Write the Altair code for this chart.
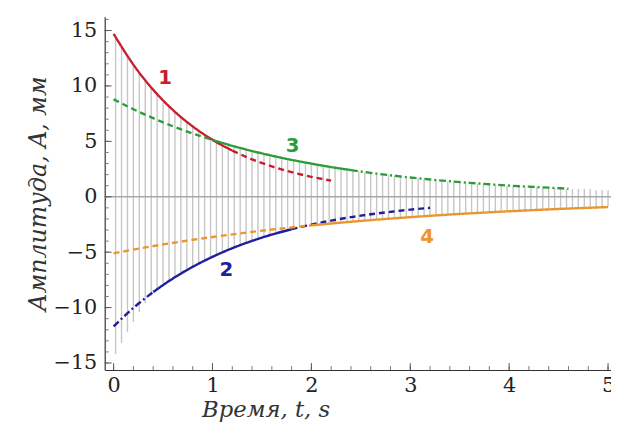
import altair as alt
import pandas as pd

# ---- gray oscillation strokes (sample times, upper and lower tips) ----
line_t = [0.02, 0.08, 0.14, 0.2, 0.26, 0.32, 0.38, 0.44, 0.5, 0.56, 0.62, 0.68, 0.74, 0.8, 0.86, 0.92, 0.98,
          1.04, 1.1, 1.16, 1.22, 1.28, 1.34, 1.4, 1.46, 1.52, 1.58, 1.64, 1.7, 1.76, 1.82, 1.88, 1.94, 2.0,
          2.06, 2.12, 2.18, 2.24, 2.3, 2.36, 2.42, 2.48, 2.54, 2.6, 2.66, 2.72, 2.78, 2.84, 2.9, 2.96,
          3.02, 3.08, 3.14, 3.2, 3.26, 3.32, 3.38, 3.44, 3.5, 3.56, 3.62, 3.68, 3.74, 3.8, 3.86, 3.92, 3.98,
          4.04, 4.1, 4.16, 4.22, 4.28, 4.34, 4.4, 4.46, 4.52, 4.58, 4.64, 4.7, 4.76, 4.82, 4.88, 4.94, 5.0]
line_top = [14.4, 13.5, 12.7, 11.9, 11.2, 10.5, 9.9, 9.3, 8.7, 8.2, 7.7, 7.2, 6.8, 6.3, 6.0, 5.6, 5.3,
            5.0, 4.9, 4.7, 4.6, 4.4, 4.3, 4.1, 4.0, 3.9, 3.7, 3.6, 3.5, 3.4, 3.3, 3.2, 3.1, 3.0,
            2.9, 2.8, 2.7, 2.6, 2.5, 2.5, 2.4, 2.3, 2.2, 2.2, 2.1, 2.0, 2.0, 1.9, 1.8, 1.8,
            1.7, 1.7, 1.6, 1.6, 1.5, 1.5, 1.4, 1.4, 1.3, 1.3, 1.2, 1.2, 1.2, 1.1, 1.1, 1.1, 1.0,
            1.0, 1.0, 0.9, 0.9, 0.9, 0.8, 0.8, 0.8, 0.8, 0.7, 0.7, 0.7, 0.7, 0.7, 0.6, 0.6, 0.6]
line_bottom = [-14.2, -13.2, -12.2, -11.3, -10.4, -9.6, -8.9, -8.3, -8.0, -7.6, -7.3, -6.9, -6.6, -6.3, -6.0, -5.8, -5.5,
               -5.3, -5.0, -4.8, -4.6, -4.4, -4.2, -4.0, -3.8, -3.6, -3.5, -3.3, -3.2, -3.0, -2.9, -2.8, -2.6, -2.6,
               -2.5, -2.5, -2.4, -2.4, -2.3, -2.3, -2.2, -2.2, -2.2, -2.1, -2.1, -2.0, -2.0, -1.9, -1.9, -1.9,
               -1.8, -1.8, -1.8, -1.7, -1.7, -1.6, -1.6, -1.6, -1.6, -1.5, -1.5, -1.5, -1.4, -1.4, -1.4, -1.3, -1.3,
               -1.3, -1.3, -1.2, -1.2, -1.2, -1.2, -1.1, -1.1, -1.1, -1.1, -1.1, -1.0, -1.0, -1.0, -1.0, -1.0, -0.9]

# ---- envelope curves ----
red_t = [0.0, 0.2, 0.4, 0.6, 0.8, 1.0, 1.2, 1.4, 1.6, 1.8, 2.0, 2.2]
red_v = [14.70, 11.92, 9.66, 7.83, 6.35, 5.14, 4.17, 3.38, 2.74, 2.22, 1.80, 1.46]
green_t = [0.0, 0.2, 0.4, 0.6, 0.8, 1.0, 1.2, 1.4, 1.6, 1.8, 2.0, 2.2, 2.4, 2.6, 2.8, 3.0, 3.2, 3.4, 3.6,
           3.8, 4.0, 4.2, 4.4, 4.6]
green_v = [8.80, 7.90, 7.09, 6.36, 5.71, 5.13, 4.60, 4.13, 3.71, 3.33, 2.99, 2.68, 2.41, 2.16, 1.94, 1.74,
           1.56, 1.40, 1.26, 1.13, 1.01, 0.91, 0.82, 0.73]
blue_t = [0.0, 0.2, 0.4, 0.6, 0.8, 1.0, 1.2, 1.4, 1.6, 1.8, 2.0, 2.2, 2.4, 2.6, 2.8, 3.0, 3.2]
blue_v = [-11.70, -10.03, -8.60, -7.37, -6.32, -5.42, -4.64, -3.98, -3.41, -2.93, -2.51, -2.15, -1.84,
          -1.58, -1.36, -1.16, -1.00]
orange_t = [0.0, 0.5, 1.0, 1.5, 2.0, 2.5, 3.0, 3.5, 4.0, 4.5, 5.0]
orange_v = [-5.10, -4.30, -3.63, -3.06, -2.58, -2.18, -1.84, -1.55, -1.31, -1.10, -0.93]

# segments: (curve, start, end, style)
segments = [
    ("1", 0.0, 1.2, "solid"), ("1", 1.2, 2.2, "dash"),
    ("3", 0.0, 1.0, "dash"), ("3", 1.0, 2.4, "solid"), ("3", 2.4, 4.6, "dashdot"),
    ("2", 0.0, 0.4, "dashdot"), ("2", 0.4, 1.8, "solid"), ("2", 1.8, 3.2, "dash"),
    ("4", 0.0, 2.0, "dash"), ("4", 2.0, 5.0, "solid"),
]

curve_ids = ["1", "2", "3", "4"]
curve_colors = ["#c81e2c", "#1f1f9e", "#2c9c38", "#eb962c"]

lab_t = [0.52, 1.14, 1.81, 3.17]
lab_v = [10.7, -6.6, 4.6, -3.6]
lab_text = ["1", "2", "3", "4"]

y_major = [-15, -10, -5, 0, 5, 10, 15]
y_minor = [-15, -14, -13, -12, -11, -10, -9, -8, -7, -6, -5, -4, -3, -2, -1, 0, 1, 2, 3, 4, 5, 6, 7, 8,
           9, 10, 11, 12, 13, 14, 15, 16]
x_major = [0, 1, 2, 3, 4, 5]
x_minor = [0.0, 0.2, 0.4, 0.6, 0.8, 1.0, 1.2, 1.4, 1.6, 1.8, 2.0, 2.2, 2.4, 2.6, 2.8, 3.0, 3.2, 3.4,
           3.6, 3.8, 4.0, 4.2, 4.4, 4.6, 4.8, 5.0]

W, H = 513, 358

curve_src = {"1": (red_t, red_v), "2": (blue_t, blue_v), "3": (green_t, green_v), "4": (orange_t, orange_v)}
rows = []
for k, (c, a, b, st) in enumerate(segments):
    ts, vs = curve_src[c]
    for t, v in zip(ts, vs):
        if a - 1e-9 <= t <= b + 1e-9:
            rows.append({"t": t, "v": v, "curve": c, "seg": f"s{k}", "style": st})
curves_df = pd.DataFrame(rows)

lines_df = pd.DataFrame({"t": line_t, "v": line_top, "bottom": line_bottom})
labels_df = pd.DataFrame({"t": lab_t, "v": lab_v, "curve": lab_text})

xscale = alt.Scale(domain=[-0.09, 5.03], nice=False, zero=False)
yscale = alt.Scale(domain=[-15.63, 16.25], nice=False, zero=False)
color_scale = alt.Scale(domain=curve_ids, range=curve_colors)

xaxis = alt.Axis(values=x_major, title="Время, t, s", format="d",
                 titleX=163, titleY=47, titleBaseline="alphabetic", titleAlign="center",
                 titleFontSize=23)
yaxis = alt.Axis(values=y_major, title="Амплитуда, A, мм", format="d",
                 titleX=-60, titleBaseline="alphabetic", titleAlign="center",
                 titleFontSize=24)

X = alt.X("t:Q", scale=xscale, axis=xaxis)
Y = alt.Y("v:Q", scale=yscale, axis=yaxis)

gray = alt.Chart(lines_df).mark_rule(color="#c6c6c6", strokeWidth=1.4).encode(
    x=X, y=Y, y2="bottom:Q",
)

zero_df = pd.DataFrame({"v": [0]})
zero = alt.Chart(zero_df).mark_rule(color="#a8a8a8", strokeWidth=1.6).encode(
    y=Y, x=alt.value(0), x2=alt.value(W)
)

ymaj = alt.Chart(pd.DataFrame({"v": y_major})).mark_rule(color="#555555", strokeWidth=1).encode(
    y=Y, x=alt.value(0), x2=alt.value(7))
ymin = alt.Chart(pd.DataFrame({"v": y_minor})).mark_rule(color="#777777", strokeWidth=1).encode(
    y=Y, x=alt.value(0), x2=alt.value(4))
xmaj = alt.Chart(pd.DataFrame({"t": x_major})).mark_rule(color="#555555", strokeWidth=1).encode(
    x=X, y=alt.value(H), y2=alt.value(H - 7))
xmin = alt.Chart(pd.DataFrame({"t": x_minor})).mark_rule(color="#777777", strokeWidth=1).encode(
    x=X, y=alt.value(H), y2=alt.value(H - 4))

curves = alt.Chart(curves_df).mark_line(strokeWidth=2.4, interpolate="monotone", clip=True).encode(
    x=X,
    y=Y,
    color=alt.Color("curve:N", scale=color_scale, legend=None),
    strokeDash=alt.StrokeDash("style:N",
                              scale=alt.Scale(domain=["solid", "dash", "dashdot"],
                                              range=[[1, 0], [6, 4], [7, 3, 2, 3]]),
                              legend=None),
    detail="seg:N",
    order="t:Q",
)

labels = alt.Chart(labels_df).mark_text(font="DejaVu Sans", fontWeight="bold", fontSize=20).encode(
    x=X,
    y=Y,
    text="curve:N",
    color=alt.Color("curve:N", scale=color_scale, legend=None),
)

chart = alt.layer(gray, zero, ymin, ymaj, xmin, xmaj, curves, labels).properties(
    width=W, height=H,
    autosize=alt.AutoSizeParams(type="none"),
    padding={"left": 98, "top": 6, "right": 0, "bottom": 58},
).configure_view(stroke=None).configure_axis(
    grid=False, ticks=False, domainColor="#333333", domainWidth=1.2,
    labelFont="DejaVu Serif", labelFontSize=21, labelColor="#222222",
    titleFont="DejaVu Serif", titleFontStyle="italic", titleFontWeight="normal",
    titleColor="#333333",
).configure_axisY(labelPadding=8).configure_axisX(labelPadding=5)

chart.save("out.html", embed_options={"renderer": "svg", "actions": False})
